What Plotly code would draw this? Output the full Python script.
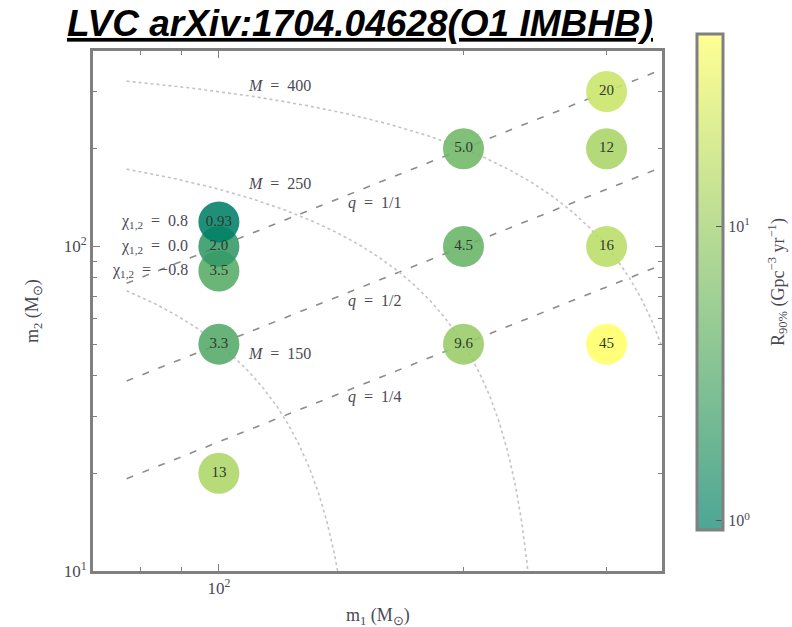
import numpy as np
import plotly.graph_objects as go

# ---- data ----
m1 = [100, 100, 100, 100, 100, 200, 200, 200, 300, 300, 300, 300]
m2 = [20, 50, 100, 100, 100, 50, 100, 200, 50, 100, 200, 300]
chi = [0.0, 0.0, -0.8, 0.0, 0.8, 0.0, 0.0, 0.0, 0.0, 0.0, 0.0, 0.0]
rate = [13, 3.3, 3.5, 2.0, 0.93, 9.6, 4.5, 5.0, 45, 16, 12, 20]
rate_text = ["13", "3.3", "3.5", "2.0", "0.93", "9.6", "4.5", "5.0", "45", "16", "12", "20"]

q_values = [1.0, 0.5, 0.25]
q_labels = ["1/1", "1/2", "1/4"]
M_values = [400, 250, 150]
spin_values = [0.8, 0.0, -0.8]
spin_labels = ["0.8", "0.0", "−0.8"]

x_minor = [80, 90, 200, 300]
y_minor = [20, 30, 40, 50, 60, 70, 80, 90, 200, 300]

# ---- styling ----
SERIF = "Liberation Serif"
TXT = "#4a4a55"
FRAME = "#808080"
spin_step = 1.19  # vertical display offset of spin variants
m1_lo, m1_hi = 77, 352

summer = [[0, "rgb(0,128,102)"], [1, "rgb(255,255,102)"]]
summer_light = [[0, "rgb(77,166,148)"], [1, "rgb(255,255,148)"]]

m2_disp = [b * spin_step ** (c / 0.8) for b, c in zip(m2, chi)]
logr = np.log10(rate)
cmin, cmax = float(logr.min()), float(logr.max())

fig = go.Figure()

# q = m2/m1 lines
mgrid = np.logspace(np.log10(m1_lo), np.log10(m1_hi), 200)
for q in q_values:
    fig.add_trace(go.Scatter(x=mgrid, y=q * mgrid, mode="lines",
                             line=dict(color="#8c8c8c", width=1.6, dash="7px,10px"),
                             hoverinfo="skip", showlegend=False))
# total-mass curves
for M in M_values:
    mm = np.linspace(m1_lo, min(M - 10, m1_hi), 300)
    fig.add_trace(go.Scatter(x=mm, y=M - mm, mode="lines",
                             line=dict(color="#c4c4c4", width=1.6, dash="3px,3px"),
                             hoverinfo="skip", showlegend=False))

# circles
fig.add_trace(go.Scatter(
    x=m1, y=m2_disp, mode="markers+text", text=rate_text,
    textposition="middle center",
    textfont=dict(family=SERIF, size=15, color="#2f3a2a"),
    marker=dict(size=41, color=logr, colorscale=summer, cmin=cmin, cmax=cmax,
                opacity=0.88, line=dict(width=0), showscale=False),
    hoverinfo="skip", showlegend=False))

# colour bar (lighter, as in reference)
fig.add_trace(go.Scatter(
    x=m1, y=m2_disp, mode="markers",
    marker=dict(size=1, color=logr, colorscale=summer_light, cmin=cmin, cmax=cmax,
                opacity=0,
                colorbar=dict(
                    x=(697 - 93) / 569, xanchor="left", xpad=0, ypad=0,
                    y=(571 - 282) / 520, yanchor="middle",
                    len=496, lenmode="pixels", thickness=26,
                    outlinewidth=3, outlinecolor=FRAME,
                    tickmode="array", tickvals=[0, 1],
                    ticktext=["10<sup>0</sup>", "10<sup>1</sup>"],
                    ticks="inside", ticklen=8, tickcolor="#555",
                    tickfont=dict(family=SERIF, size=16, color=TXT))),
    hoverinfo="skip", showlegend=False))

LBL = dict(family=SERIF, size=16, color=TXT)
annotations = []
# M labels
for M, yl in zip(M_values, [313, 156, 46.9]):
    annotations.append(dict(x=np.log10(108), y=np.log10(yl), xref="x", yref="y",
                            text=f"<i>M</i>  =  {M}", showarrow=False, xanchor="left",
                            font=LBL))
# q labels
for ql, yl in zip(q_labels, [135.6, 68, 34.3]):
    annotations.append(dict(x=np.log10(143.5), y=np.log10(yl), xref="x", yref="y",
                            text=f"<i>q</i>  =  {ql}", showarrow=False, xanchor="left",
                            font=LBL))
# spin labels
for s, sl in zip(spin_values, spin_labels):
    annotations.append(dict(x=2, y=np.log10(100 * spin_step ** (s / 0.8)), xref="x", yref="y",
                            xshift=-29, text=f"χ<sub>1,2</sub>  =  {sl}", showarrow=False,
                            xanchor="right", font=LBL))
# axis titles
annotations.append(dict(x=0.5, y=0, xref="paper", yref="paper", yshift=-45, yanchor="middle",
                        text="m<sub>1</sub> (M<sub>⊙</sub>)", showarrow=False,
                        font=dict(family=SERIF, size=18, color=TXT)))
annotations.append(dict(x=0, y=0.5, xref="paper", yref="paper", xshift=-60, xanchor="center",
                        text="m<sub>2</sub> (M<sub>⊙</sub>)", showarrow=False, textangle=-90,
                        font=dict(family=SERIF, size=18, color=TXT)))
annotations.append(dict(x=(777 - 93) / 569, y=(571 - 282) / 520, xref="paper", yref="paper",
                        xanchor="center", yanchor="middle",
                        text="R<sub>90%</sub> (Gpc<sup>−3</sup> yr<sup>−1</sup>)", showarrow=False,
                        textangle=-90, font=dict(family=SERIF, size=18, color=TXT)))

axis_common = dict(type="log", showgrid=False, zeroline=False, showline=True, mirror="ticks",
                   linecolor=FRAME, linewidth=3, ticks="inside", ticklen=7, tickwidth=1,
                   tickcolor=FRAME, tickfont=dict(family=SERIF, size=17, color=TXT))

fig.update_layout(
    width=792, height=627,
    margin=dict(l=93, r=130, t=51, b=56),
    paper_bgcolor="white", plot_bgcolor="white",
    title=dict(text="<b><i><u>LVC arXiv:1704.04628(O1 IMBHB)</u></i></b>",
               x=(360 - 93) / 569, xref="paper", xanchor="center",
               y=1 - 23 / 627, yref="container", yanchor="middle",
               font=dict(family="Liberation Sans", size=37, color="black")),
    xaxis=dict(range=[np.log10(70), np.log10(351)], tickmode="array", tickvals=[100],
               ticktext=["10<sup>2</sup>"],
               minor=dict(tickmode="array", tickvals=x_minor, ticks="inside", ticklen=4,
                          tickcolor=FRAME), **axis_common),
    yaxis=dict(range=[1, np.log10(400)], tickmode="array", tickvals=[10, 100],
               ticktext=["10<sup>1</sup>", "10<sup>2</sup>"],
               minor=dict(tickmode="array", tickvals=y_minor, ticks="inside", ticklen=4,
                          tickcolor=FRAME), **axis_common),
    annotations=annotations,
)

fig.write_html("out.html", config={"displayModeBar": False},
               post_script="document.body.style.margin='0';document.body.style.padding='0';")
